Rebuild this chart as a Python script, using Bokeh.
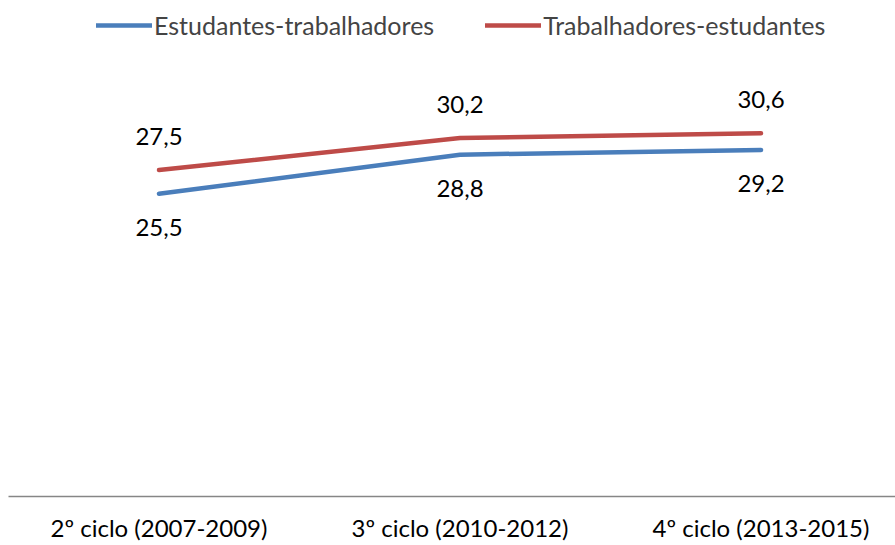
from bokeh.plotting import figure
from bokeh.models import Range1d, FixedTicker, Legend, LegendItem, ColumnDataSource
from bokeh.core.properties import value
from bokeh.embed import file_html
from bokeh.resources import INLINE

categories = ["2º ciclo (2007-2009)", "3º ciclo (2010-2012)", "4º ciclo (2013-2015)"]
est_trab = [25.5, 28.8, 29.2]
trab_est = [27.5, 30.2, 30.6]
series_names = ["Estudantes-trabalhadores", "Trabalhadores-estudantes"]

FONT = "Lato"
FS = "24px"
BLUE = "#4A7EBB"
RED = "#BE4B48"

W, H = 895, 545
LEFT, TOP, BOTTOM = 8, 0, 49
FRAME_W = W - LEFT
FRAME_H = H - TOP - BOTTOM
PX_PER_CAT = 301
PX_PER_UNIT = 11.87

xs = list(range(len(categories)))

p = figure(width=W, height=H, output_backend="svg", toolbar_location=None,
           x_range=Range1d(-0.5, -0.5 + FRAME_W / PX_PER_CAT),
           y_range=Range1d(0, FRAME_H / PX_PER_UNIT),
           y_axis_location=None, min_border_left=LEFT, min_border_right=0,
           min_border_top=TOP, min_border_bottom=BOTTOM)
p.outline_line_color = None
p.grid.visible = False
p.background_fill_color = "white"
p.border_fill_color = "white"

ax = p.xaxis[0]
ax.ticker = FixedTicker(ticks=xs)
ax.major_label_overrides = {i: c for i, c in enumerate(categories)}
ax.major_tick_line_color = None
ax.major_tick_out = 0
ax.major_tick_in = 0
ax.minor_tick_line_color = None
ax.minor_tick_out = 0
ax.axis_line_color = "#868686"
ax.axis_line_width = 1.5
ax.major_label_text_font = FONT
ax.major_label_text_font_size = FS
ax.major_label_text_color = "black"
ax.major_label_standoff = 16

src = ColumnDataSource(dict(x=xs, a=est_trab, b=trab_est,
                            la=[f"{v:.1f}".replace(".", ",") for v in est_trab],
                            lb=[f"{v:.1f}".replace(".", ",") for v in trab_est]))

r1 = p.line("x", "a", source=src, line_color=BLUE, line_width=4.5, line_cap="round", line_join="round")
r2 = p.line("x", "b", source=src, line_color=RED, line_width=4.5, line_cap="round", line_join="round")

p.text("x", "a", text="la", source=src, text_font=value(FONT), text_font_size=FS,
       text_align="center", text_baseline="middle", y_offset=34, text_color="black")
p.text("x", "b", text="lb", source=src, text_font=value(FONT), text_font_size=FS,
       text_align="center", text_baseline="middle", y_offset=-34, text_color="black")

legend = Legend(items=[LegendItem(label=series_names[0], renderers=[r1]),
                       LegendItem(label=series_names[1], renderers=[r2])],
                orientation="horizontal", location=(88, FRAME_H - 40),
                glyph_width=56, glyph_height=24, label_standoff=2, spacing=51,
                padding=0, margin=0, border_line_color=None, background_fill_alpha=0,
                label_text_font=FONT, label_text_font_size="25px", label_height=24)
p.add_layout(legend)

open("out.html", "w").write(file_html(p, INLINE))
